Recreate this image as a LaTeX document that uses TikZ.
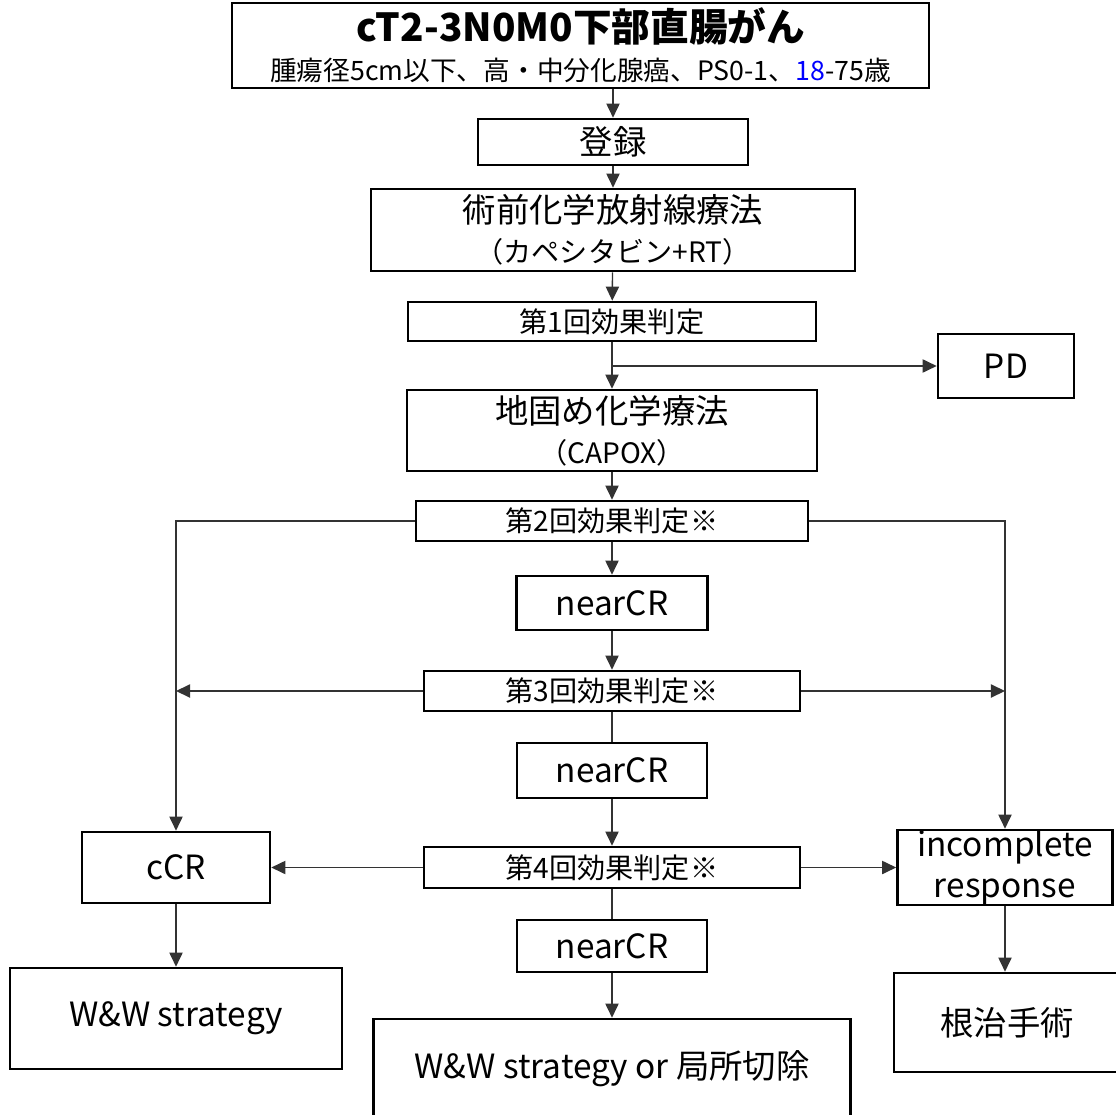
\documentclass[tikz,border=0pt]{standalone}
\usepackage{fontspec}
\setmainfont{Noto Sans CJK JP}
\usepackage{xcolor}
\usetikzlibrary{arrows.meta, positioning}
\newcommand{\bigtxt}{\fontsize{19}{23}\selectfont}
\newcommand{\smalltxt}{\fontsize{16}{20}\selectfont}
\tikzset{
  box/.style={draw, line width=1.5pt, align=center, inner sep=0pt, font=\bigtxt},
  evalbox/.style={box, font=\smalltxt},
  arrow/.style={-{Triangle[length=8pt, width=7.5pt]}, line width=0.8pt, black!80},
  link/.style={line width=0.8pt, black!80}
}

\begin{document}
\begin{tikzpicture}[x=0.02cm, y=-0.02cm]
    \clip (0,0) rectangle (1116,1115);
    \node[box, minimum width=13.94cm, minimum height=1.70cm] (title) at (580.5,45.5)
      {{\fontsize{22}{26}\selectfont\bfseries cT2-3N0M0下部直腸がん}\\[-1pt]
       {\fontsize{15.2}{18}\selectfont 腫瘍径5cm以下、高・中分化腺癌、PS0-1、\textcolor{blue}{18}-75歳}};
    \node[box, minimum width=5.40cm, minimum height=0.92cm] (reg) at (613,142) {登録};
    \node[box, minimum width=9.68cm, minimum height=1.64cm] (crt) at (613,230)
      {術前化学放射線療法\\{\smalltxt （カペシタビン+RT）}};
    \node[evalbox, minimum width=8.16cm, minimum height=0.78cm] (eval1) at (612,321.5) {第1回効果判定};
    \node[box, minimum width=2.72cm, minimum height=1.28cm] (pd) at (1006,366) {PD};
    \node[box, minimum width=8.20cm, minimum height=1.62cm] (cons) at (612,430.5)
      {地固め化学療法\\{\smalltxt （CAPOX）}};
    \node[evalbox, minimum width=7.84cm, minimum height=0.80cm] (eval2) at (612,521) {第2回効果判定※};
    \node[box, minimum width=3.82cm, minimum height=1.08cm] (near1) at (612,603) {nearCR};
    \node[evalbox, minimum width=7.52cm, minimum height=0.80cm] (eval3) at (612,691) {第3回効果判定※};
    \node[box, minimum width=3.80cm, minimum height=1.10cm] (near2) at (612,770.5) {nearCR};
    \node[evalbox, minimum width=7.52cm, minimum height=0.82cm] (eval4) at (612,867.5) {第4回効果判定※};
    \node[box, minimum width=3.80cm, minimum height=1.04cm] (near3) at (612,946) {nearCR};
    \node[box, minimum width=3.76cm, minimum height=1.42cm] (ccr) at (176,867.5) {cCR};
    \node[box, minimum width=4.30cm, minimum height=1.50cm] (icr) at (1005,867.5) {incomplete\\response};
    \node[box, minimum width=6.64cm, minimum height=2.02cm] (ww) at (176,1018.5) {W\&W strategy};
    \node[box, minimum width=9.54cm, minimum height=1.98cm] (wwl) at (612,1068.5) {W\&W strategy or 局所切除};
    \node[box, minimum width=4.52cm, minimum height=1.98cm] (cure) at (1007,1022.5) {根治手術};

    % main column
    \draw[arrow] (reg.north |- title.south) -- (reg.north);
    \draw[arrow] (reg) -- (crt);
    \draw[arrow] (crt) -- (eval1);
    \draw[arrow] (eval1) -- (cons);
    \draw[arrow] (eval1.south |- pd.west) -- (pd.west);
    \draw[arrow] (cons) -- (eval2);
    \draw[arrow] (eval2) -- (near1);
    \draw[arrow] (near1) -- (eval3);
    \draw[link] (eval3) -- (near2);
    \draw[arrow] (near2) -- (eval4);
    \draw[link] (eval4) -- (near3);
    \draw[arrow] (near3) -- (wwl);

    % side branches
    \draw[arrow] (eval2.west) -| (ccr.north);
    \draw[arrow] (eval2.east) -| (icr.north);
    \draw[arrow] (eval3.west) -- (eval3.west -| ccr.north);
    \draw[arrow] (eval3.east) -- (eval3.east -| icr.north);
    \draw[arrow] (eval4.west) -- (ccr.east);
    \draw[arrow] (eval4.east) -- (icr.west);
    \draw[arrow] (ccr) -- (ww);
    \draw[arrow] (icr.south) -- (icr.south |- cure.north);
\end{tikzpicture}
\end{document}
